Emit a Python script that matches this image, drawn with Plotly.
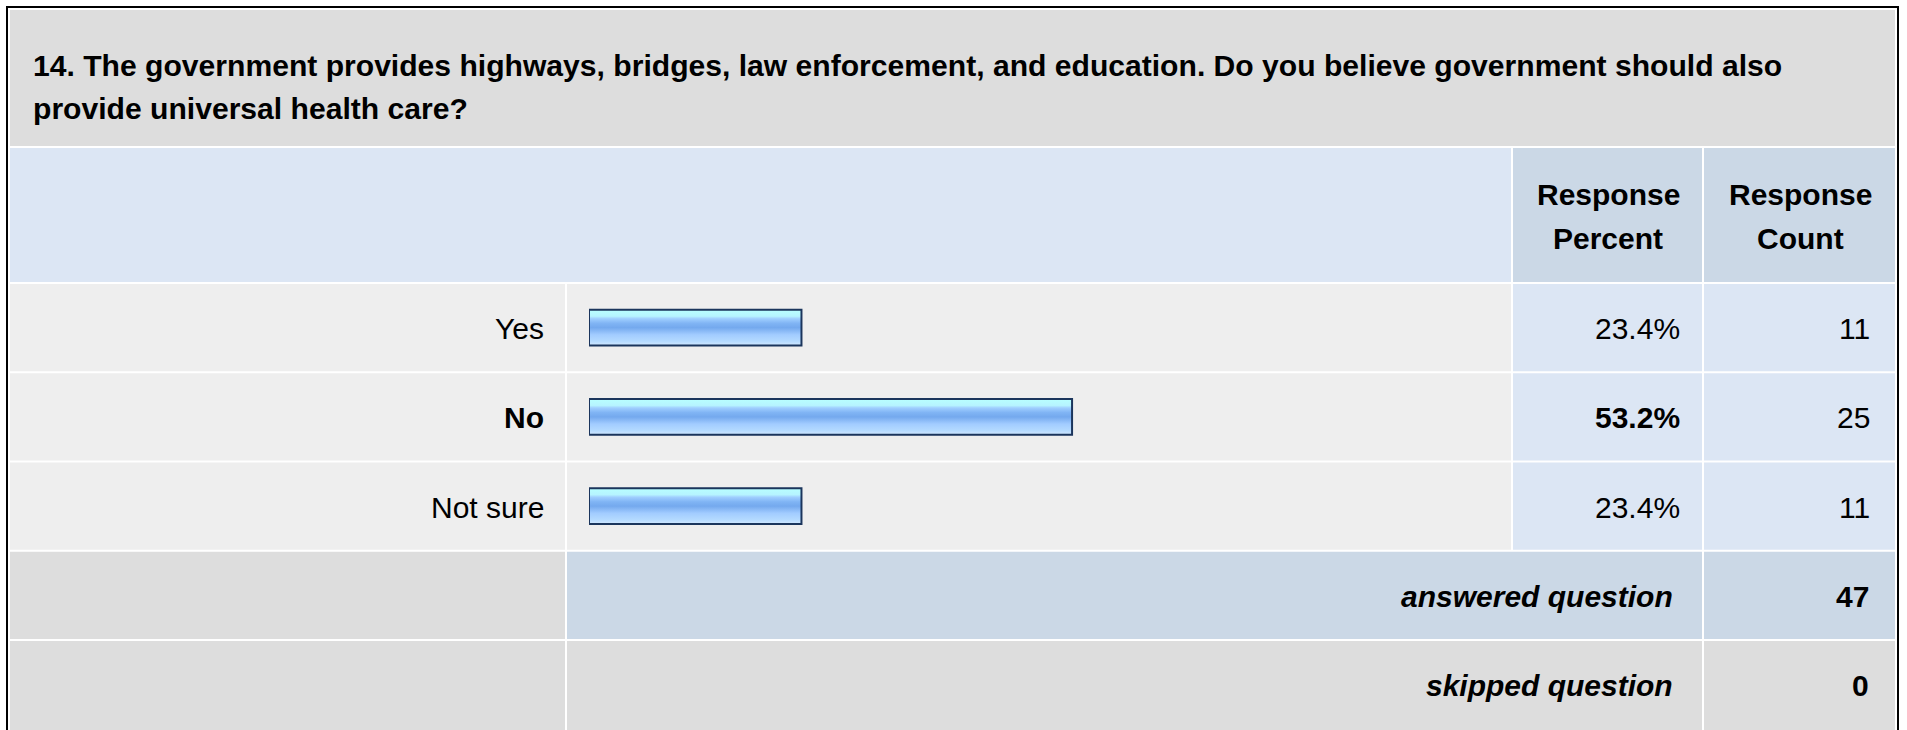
import plotly.graph_objects as go

# survey question 14
title_lines = [
    "14. The government provides highways, bridges, law enforcement, and education. Do you believe government should also",
    "provide universal health care?",
]
choices = ["Yes", "No", "Not sure"]
percents = [23.4, 53.2, 23.4]
counts = [11, 25, 11]
answered = 47
skipped = 0
header_cols = [["Response", "Percent"], ["Response", "Count"]]

W, H = 1907, 730
FONT = "Liberation Sans, Arial, sans-serif"


def fx(px):
    return px / W


def fy(py):
    return 1 - py / H


def cell(x0, y0, x1, y1, color):
    return dict(type="rect", xref="paper", yref="paper", layer="below",
                x0=fx(x0), x1=fx(x1), y0=fy(y1), y1=fy(y0),
                fillcolor=color, line=dict(width=0))


def text(s, px, py, anchor="right", size=30):
    return dict(text=s, x=fx(px), y=fy(py), xref="paper", yref="paper",
                xanchor=anchor, yanchor="middle", showarrow=False,
                font=dict(family=FONT, size=size, color="#000000"))


# grid (pixels)
LEFT, RIGHT = 10, 1895
COL_LABEL = 565     # gap after label column
COL_PCT = 1511      # gap before percent column
COL_CNT = 1702      # gap before count column
TITLE_BOTTOM = 146
HEADER_BOTTOM = 282
ROW_PITCH = 89.25
GAP = 2

shapes = []
annotations = []

# title block
shapes.append(cell(LEFT, 10, RIGHT, TITLE_BOTTOM, "#DDDDDD"))
annotations.append(text("<b>%s</b>" % title_lines[0], 31, 65, "left", 30.1))
annotations.append(text("<b>%s</b>" % title_lines[1], 31, 108, "left", 30.1))

# header row
hy0, hy1 = TITLE_BOTTOM + GAP, HEADER_BOTTOM
shapes.append(cell(LEFT, hy0, COL_PCT, hy1, "#DCE6F4"))
shapes.append(cell(COL_PCT + GAP, hy0, COL_CNT, hy1, "#CBD8E6"))
shapes.append(cell(COL_CNT + GAP, hy0, RIGHT, hy1, "#CBD8E6"))
for (l1, l2), cx in zip(header_cols, [1608, 1800]):
    annotations.append(text("<b>%s</b>" % l1, cx, 195, "center"))
    annotations.append(text("<b>%s</b>" % l2, cx, 239, "center"))

row_top = [HEADER_BOTTOM + GAP + i * ROW_PITCH for i in range(5)]
best = percents.index(max(percents))

# choice rows
for i, (c, p, n) in enumerate(zip(choices, percents, counts)):
    y0 = row_top[i]
    y1 = y0 + ROW_PITCH - GAP
    shapes.append(cell(LEFT, y0, COL_LABEL, y1, "#EEEEEE"))
    shapes.append(cell(COL_LABEL + GAP, y0, COL_PCT, y1, "#EEEEEE"))
    shapes.append(cell(COL_PCT + GAP, y0, COL_CNT, y1, "#DCE6F4"))
    shapes.append(cell(COL_CNT + GAP, y0, RIGHT, y1, "#DCE6F4"))
    cy = (y0 + y1) / 2 + 1
    lab = "<b>%s</b>" % c if i == best else c
    pct = "<b>%.1f%%</b>" % p if i == best else "%.1f%%" % p
    annotations.append(text(lab, 546, cy))
    annotations.append(text(pct, 1682, cy))
    annotations.append(text(str(n), 1872, cy))

# answered / skipped rows
for k, (label, val, mid) in enumerate([("answered question", answered, "#CBD8E6"),
                                       ("skipped question", skipped, "#DDDDDD")]):
    y0 = row_top[3 + k]
    y1 = y0 + ROW_PITCH - GAP
    y1_fill = y1 + 20 if k == 1 else y1   # last row runs off the page
    shapes.append(cell(LEFT, y0, COL_LABEL, y1_fill, "#DDDDDD"))
    shapes.append(cell(COL_LABEL + GAP, y0, COL_CNT, y1_fill, mid))
    shapes.append(cell(COL_CNT + GAP, y0, RIGHT, y1_fill, mid))
    cy = (y0 + y1) / 2 + 1
    annotations.append(text("<b><i>%s</i></b>" % label, 1675, cy))
    annotations.append(text("<b>%d</b>" % val, 1871, cy))

# outer frame
shapes.append(dict(type="rect", xref="paper", yref="paper", layer="above",
                   x0=fx(7), x1=fx(1898), y0=fy(760), y1=fy(7),
                   line=dict(color="#000000", width=2), fillcolor="rgba(0,0,0,0)"))

fig = go.Figure()

half = 0.2
bar_scale = [[0.0, "#D2E8FF"], [0.12, "#B4DAFF"], [0.3, "#A2CCFF"],
             [0.5, "#74A9EE"], [0.62, "#80B4F4"], [0.75, "#9FCEFF"],
             [0.82, "#B6F4FF"], [1.0, "#B8FFFF"]]
for i, p in enumerate(percents):
    fig.add_trace(go.Scatter(
        x=[0, p, p, 0, 0],
        y=[i - half, i - half, i + half, i + half, i - half],
        mode="lines", fill="toself",
        fillgradient=dict(type="vertical", colorscale=bar_scale),
        line=dict(color="#1B355C", width=2),
        hoverinfo="skip", showlegend=False,
    ))

fig.update_layout(
    width=W, height=H,
    margin=dict(l=0, r=0, t=0, b=0),
    paper_bgcolor="#FFFFFF",
    plot_bgcolor="rgba(0,0,0,0)",
    xaxis=dict(domain=[fx(589), fx(1497)], range=[0, 100], visible=False, fixedrange=True),
    yaxis=dict(domain=[fy(row_top[3] - GAP / 2), fy(row_top[0] - GAP / 2)],
               range=[2.5, -0.5], visible=False, fixedrange=True),
    shapes=shapes,
    annotations=annotations,
    showlegend=False,
)

fig.write_html("out.html", config={"displayModeBar": False},
               post_script="document.body.style.margin='0';document.body.style.overflow='hidden';")
